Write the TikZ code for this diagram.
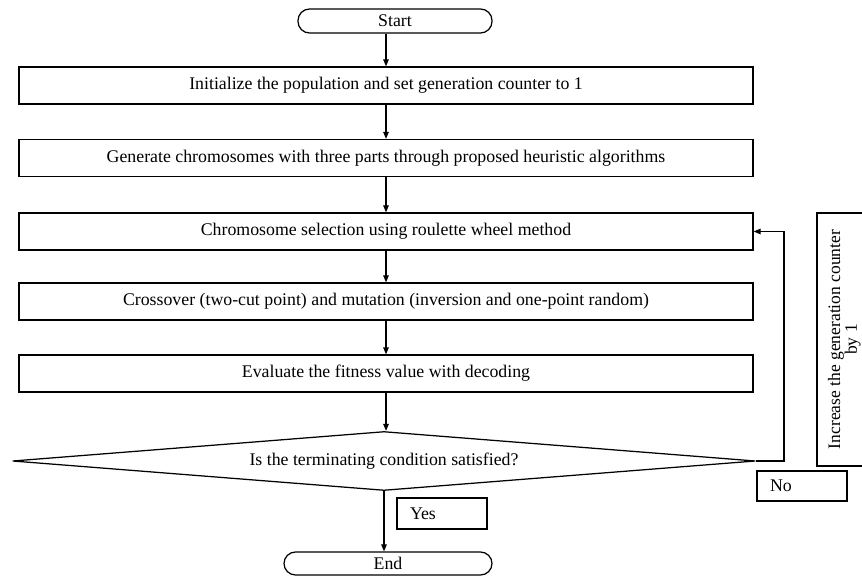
\documentclass[tikz,border=0pt]{standalone}
\usepackage{fontspec}
\setmainfont{Liberation Serif}
\usetikzlibrary{shapes.geometric,arrows.meta}
\begin{document}
\begin{tikzpicture}[x=1pt,y=-1pt, line width=1.25pt,
  font=\fontsize{17.8}{20}\selectfont,
  box/.style={draw, minimum width=734pt, minimum height=37pt, inner sep=0pt},
  term/.style={draw, rounded corners=11.5pt, minimum height=24pt, inner sep=0pt},
  lab/.style={draw, align=left, text width=64pt, inner xsep=13pt, inner ysep=0pt},
  arr/.style={-{Triangle[length=7pt,width=5.5pt]}}]
\useasboundingbox (0,0) rectangle (862,577);
\node[term, minimum width=194pt] (start) at (395,21) {Start};
\node[box] (b1) at (386,85.5) {Initialize the population and set generation counter to 1};
\node[box] (b2) at (386,158) {Generate chromosomes with three parts through proposed heuristic algorithms};
\node[box] (b3) at (386,231.5) {Chromosome selection using roulette wheel method};
\node[box] (b4) at (386,301.5) {Crossover (two-cut point) and mutation (inversion and one-point random)};
\node[box] (b5) at (386,373.5) {Evaluate the fitness value with decoding};
\node[draw, diamond, aspect=12, minimum width=743pt, minimum height=59pt, inner sep=0pt] (dia) at (384,461) {Is the terminating condition satisfied?};
\node[term, minimum width=208pt, minimum height=23pt] (end) at (388,563.5) {End};
\node[lab, minimum height=31pt] (yes) at (442,513.5) {Yes};
\node[lab, minimum height=30pt] (no) at (802,486) {No};
\node[draw, rotate=90, minimum width=253pt, minimum height=70pt, inner sep=0pt] (inc) at (852,339.5)
  {\raisebox{3pt}[0pt][0pt]{\fontsize{17.5}{15}\selectfont\begin{tabular}{@{}c@{}}Increase the generation counter\\by 1\end{tabular}}};
\coordinate (fb) at (784,461);
\draw[arr] (start.south -| b1.north) -- (b1.north);
\draw[arr] (b1) -- (b2);
\draw[arr] (b2) -- (b3);
\draw[arr] (b3) -- (b4);
\draw[arr] (b4) -- (b5);
\draw[arr] (b5.south) -- (b5.south |- dia.north);
\draw[arr] (dia.south) -- (dia.south |- end.north);
\draw[arr] (dia.east) -- (fb) |- (b3.east);
\end{tikzpicture}
\end{document}
